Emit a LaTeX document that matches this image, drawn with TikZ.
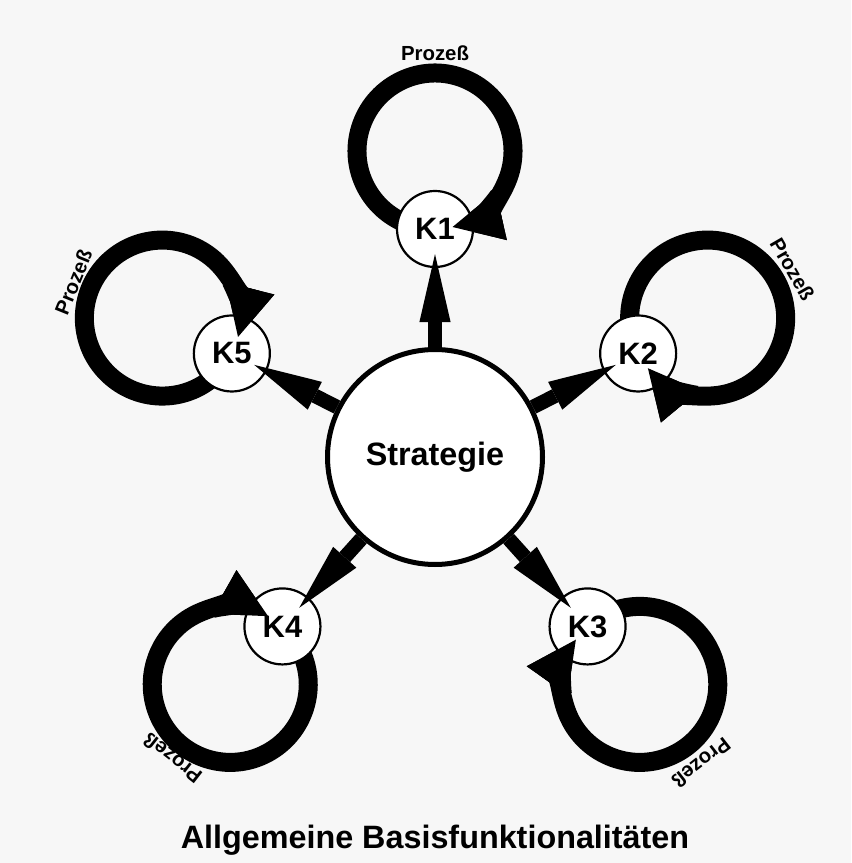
\documentclass[tikz,border=0pt]{standalone}
\usepackage{fontspec}
\setmainfont{Liberation Sans}
\usepackage{tikz}
\usetikzlibrary{arrows.meta,calc}
\definecolor{hintergrund}{RGB}{247,247,247}

\begin{document}
\begin{tikzpicture}[
  kreis/.style={circle, draw, fill=white, line width=0.55mm, minimum size=19mm, inner sep=0pt, font=\fontsize{22}{26}\selectfont\bfseries},
  pfeil/.style={line width=3.6mm, -{Triangle[length=17mm, width=7.8mm, line width=0pt]}, shorten >=-3.5mm},
  schleife/.style={line width=4.75mm, -{Triangle[length=12.5mm, width=12.5mm, line width=0pt]}},
  prozess/.style={font=\fontsize{14.5}{17}\selectfont\bfseries}
]
\useasboundingbox[fill=hintergrund] (-10.875,-10.15) rectangle (10.4,11.425);

% Mittelpunkte der Schleifen
\coordinate (L1) at (90:7.65);
\coordinate (L2) at (27:7.65);
\coordinate (L3) at (-48:7.65);
\coordinate (L4) at (-132:7.65);
\coordinate (L5) at (153:7.65);

% Schleifen (unter den Knoten)
\draw[schleife] ($(L1)+(250:1.95)$) arc[start angle=250, end angle=-77, radius=1.95];
\draw[schleife] ($(L2)+(187:1.95)$) arc[start angle=187, end angle=-140, radius=1.95];
\draw[schleife] ($(L3)+(112:1.95)$) arc[start angle=112, end angle=-215, radius=1.95];
\draw[schleife] ($(L4)+(28:1.95)$) arc[start angle=28, end angle=-299, radius=1.95];
\draw[schleife] ($(L5)+(313:1.95)$) arc[start angle=313, end angle=-14, radius=1.95];

\node[circle, draw, fill=white, line width=1.25mm, minimum size=53.75mm, font=\fontsize{23}{28}\selectfont\bfseries] (S) at (0,0) {Strategie};

\node[kreis] (K1) at (90:5.7) {K1};
\node[kreis] (K2) at (27:5.7) {K2};
\node[kreis] (K3) at (-48:5.7) {K3};
\node[kreis] (K4) at (-132:5.7) {K4};
\node[kreis] (K5) at (153:5.7) {K5};

\draw[pfeil] (S) -- (K1);
\draw[pfeil] (S) -- (K2);
\draw[pfeil] (S) -- (K3);
\draw[pfeil] (S) -- (K4);
\draw[pfeil] (S) -- (K5);

% Pfeilspitzen der Schleifen ueber den Knoten
\draw[schleife] ($(L1)+(-35:1.95)$) arc[start angle=-35, end angle=-77, radius=1.95];
\draw[schleife] ($(L2)+(-98:1.95)$) arc[start angle=-98, end angle=-140, radius=1.95];
\draw[schleife] ($(L3)+(-173:1.95)$) arc[start angle=-173, end angle=-215, radius=1.95];
\draw[schleife] ($(L4)+(-257:1.95)$) arc[start angle=-257, end angle=-299, radius=1.95];
\draw[schleife] ($(L5)+(28:1.95)$) arc[start angle=28, end angle=-14, radius=1.95];

\node[prozess] (p1) at ($(L1)+(90:2.45)$) {Prozeß};
\node[prozess, rotate=-60] (p2) at ($(L2)+(30:2.45)$) {Prozeß};
\node[prozess, rotate=-142] (p3) at ($(L3)+(-52:2.5)$) {Prozeß};
\node[prozess, rotate=142] (p4) at ($(L4)+(-128:2.35)$) {Prozeß};
\node[prozess, rotate=68] (p5) at ($(L5)+(158:2.4)$) {Prozeß};

\node[font=\fontsize{23}{28}\selectfont\bfseries, anchor=base] (titel) at (0,-9.775) {Allgemeine Basisfunktionalitäten};
\end{tikzpicture}
\end{document}
